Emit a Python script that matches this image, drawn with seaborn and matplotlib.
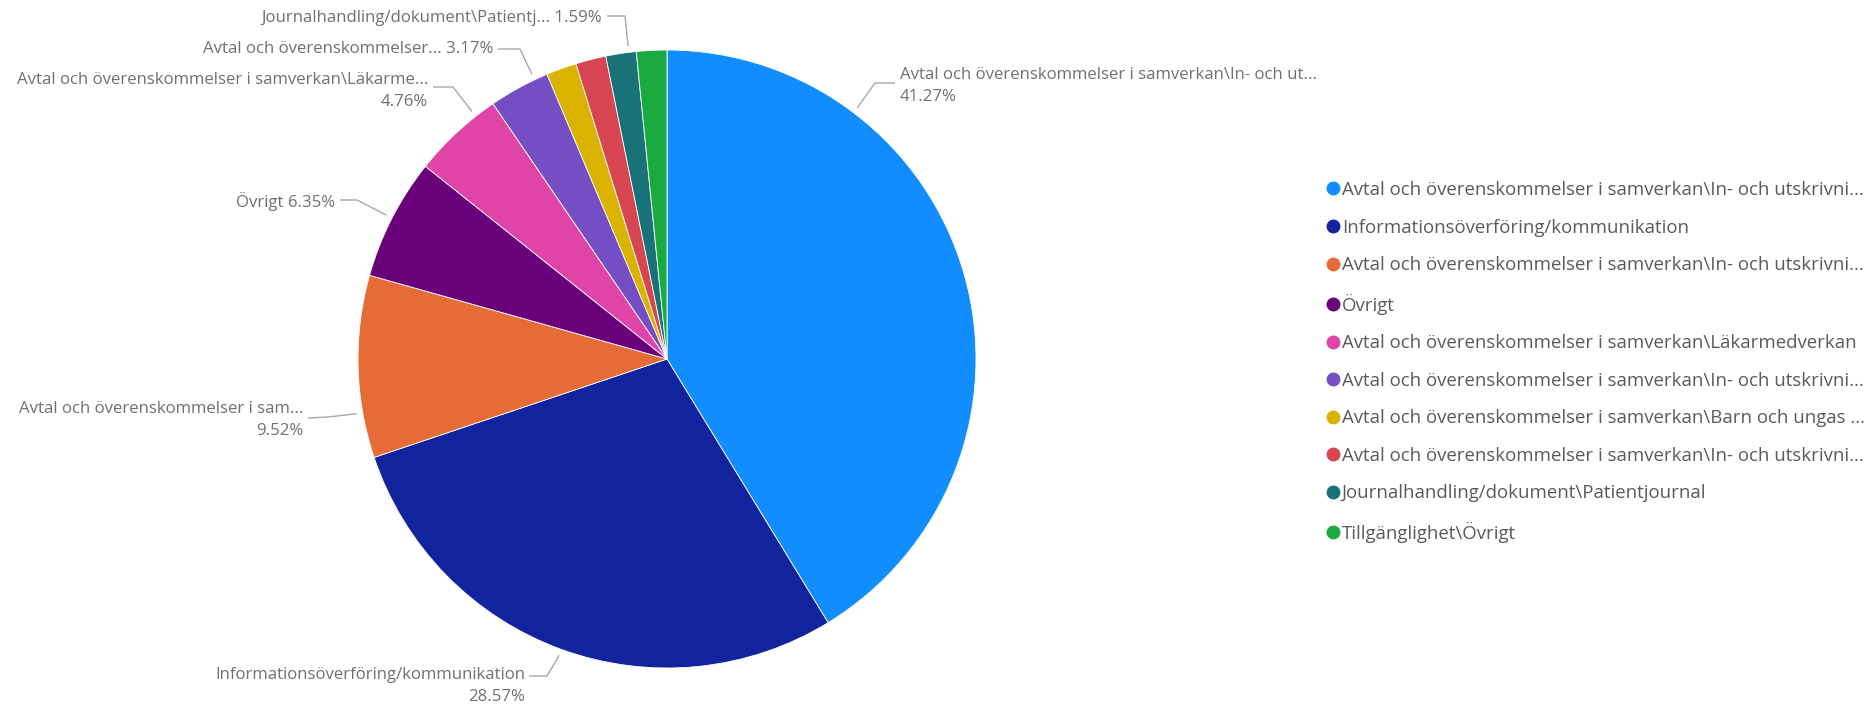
import numpy as np
import seaborn as sns
import matplotlib.pyplot as plt
from matplotlib.lines import Line2D

legend_labels = [
    'Avtal och överenskommelser i samverkan\\In- och utskrivni...',
    'Informationsöverföring/kommunikation',
    'Avtal och överenskommelser i samverkan\\In- och utskrivni...',
    'Övrigt',
    'Avtal och överenskommelser i samverkan\\Läkarmedverkan',
    'Avtal och överenskommelser i samverkan\\In- och utskrivni...',
    'Avtal och överenskommelser i samverkan\\Barn och ungas ...',
    'Avtal och överenskommelser i samverkan\\In- och utskrivni...',
    'Journalhandling/dokument\\Patientjournal',
    'Tillgänglighet\\Övrigt',
]
counts = [26, 18, 6, 4, 3, 2, 1, 1, 1, 1]
label_names = [
    'Avtal och överenskommelser i samverkan\\In- och ut...',
    'Informationsöverföring/kommunikation',
    'Avtal och överenskommelser i sam...',
    'Övrigt',
    'Avtal och överenskommelser i samverkan\\Läkarme...',
    'Avtal och överenskommelser...',
    None,
    None,
    'Journalhandling/dokument\\Patientj...',
    None,
]
colors = ['#118DFF', '#12239E', '#E66C37', '#6B007B', '#E044A7',
          '#744EC2', '#D9B300', '#D64550', '#197278', '#1AAB40']

W, H = 1875, 708
CX, CY, R = 667, 359, 309

# where each data label sits (pixels), and where its leader line bends
label_layout = {
    0: dict(tx=900, ty=75, ha='left', two=True, elbow=(875, 83), end=(895, 83), frac=0.25),
    1: dict(tx=525, ty=675, ha='right', two=True, elbow=(547, 676), end=(529, 676), frac=0.5),
    2: dict(tx=303, ty=409, ha='right', two=True, elbow=(328, 417), end=(308, 418), frac=0.25),
    3: dict(tx=335, ty=202, ha='right', two=False, elbow=(357, 200), end=(340, 200), frac=0.5),
    4: dict(tx=428, ty=80, ha='right', two=True, elbow=(453, 87), end=(433, 87), frac=0.77),
    5: dict(tx=493, ty=49, ha='right', two=False, elbow=(520, 49), end=(498, 49), frac=0.78),
    8: dict(tx=602, ty=18, ha='right', two=False, elbow=(625, 16), end=(607, 16), frac=0.76),
}


def px(x, y):
    return (x - CX) / R, (CY - y) / R


sns.set_theme(style='white')
plt.rcParams['font.family'] = ['Open Sans', 'DejaVu Sans']

palette = sns.color_palette(colors)
pct = np.array(counts) / sum(counts) * 100

fig = plt.figure(figsize=(W / 100, H / 100), dpi=100)
ax = fig.add_axes([0, 0, 1, 1])
wedges, _ = ax.pie(counts, colors=palette, startangle=90, counterclock=False, radius=1,
                   wedgeprops=dict(edgecolor='white', linewidth=0.6))
ax.set_xlim(-CX / R, (W - CX) / R)
ax.set_ylim(-(H - CY) / R, CY / R)
ax.axis('off')

label_color = '#707070'
line_color = '#a8a8a8'
fs = 12.1
for i, lay in label_layout.items():
    w = wedges[i]
    ang = np.deg2rad(w.theta2 - lay['frac'] * (w.theta2 - w.theta1))
    sx, sy = 1.02 * np.cos(ang), 1.02 * np.sin(ang)
    bx, by = px(*lay['elbow'])
    ex, ey = px(*lay['end'])
    ax.plot([sx, bx, ex], [sy, by, ey], color=line_color, lw=1.0, solid_capstyle='butt')

    tx, ty = px(lay['tx'], lay['ty'])
    p = f'{pct[i]:.2f}%'
    if lay['two']:
        ax.text(tx, ty, label_names[i], ha=lay['ha'], va='center', fontsize=fs, color=label_color)
        tx2, ty2 = px(lay['tx'], lay['ty'] + 22)
        ax.text(tx2, ty2, p, ha=lay['ha'], va='center', fontsize=fs, color=label_color)
    else:
        ax.text(tx, ty, f'{label_names[i]} {p}', ha=lay['ha'], va='center', fontsize=fs, color=label_color)

handles = [Line2D([], [], marker='o', linestyle='', markerfacecolor=c, markeredgecolor=c, markersize=9)
           for c in palette]
fig.legend(handles, legend_labels, loc='upper left', bbox_to_anchor=(1326 / W, 1 - 181 / H),
           frameon=False, fontsize=13.4, labelcolor='#5a5a5a', handlelength=0.7,
           handletextpad=0.15, labelspacing=1.05, borderaxespad=0, borderpad=0)

fig.savefig('out.png', dpi=100)
